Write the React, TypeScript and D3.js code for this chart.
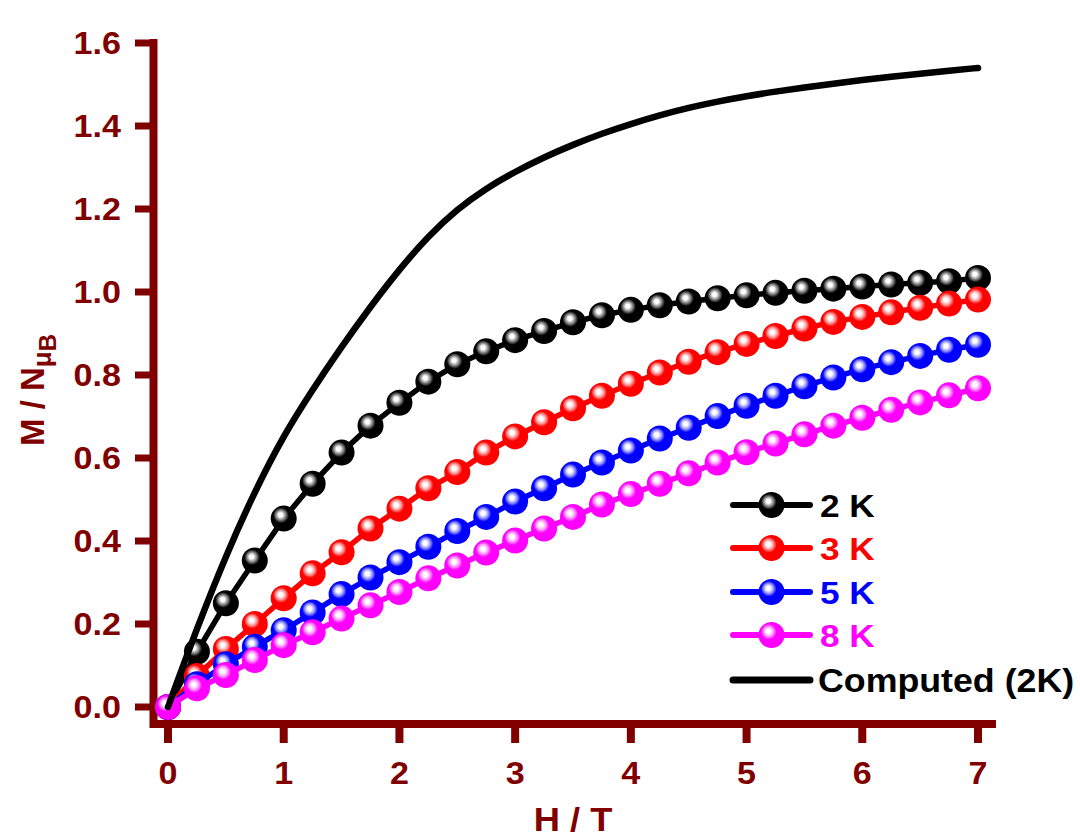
import React from "react";
import * as d3 from "d3";

// Field sweep, tesla
const fields = [
  0, 0.25, 0.5, 0.75, 1, 1.25, 1.5, 1.75, 2, 2.25, 2.5, 2.75, 3, 3.25, 3.5,
  3.75, 4, 4.25, 4.5, 4.75, 5, 5.25, 5.5, 5.75, 6, 6.25, 6.5, 6.75, 7,
];

// Measured magnetisation, M / N muB
const m2K = [
  0, 0.133, 0.25, 0.353, 0.454, 0.538, 0.613, 0.678, 0.733, 0.784, 0.826,
  0.857, 0.884, 0.906, 0.927, 0.944, 0.957, 0.968, 0.977, 0.985, 0.992, 0.998,
  1.003, 1.008, 1.013, 1.018, 1.022, 1.026, 1.034,
];
const m3K = [
  0, 0.075, 0.14, 0.2, 0.262, 0.322, 0.373, 0.43, 0.478, 0.527, 0.566, 0.613,
  0.652, 0.686, 0.72, 0.75, 0.779, 0.806, 0.832, 0.855, 0.875, 0.894, 0.912,
  0.928, 0.94, 0.951, 0.962, 0.972, 0.982,
];
const m5K = [
  0, 0.055, 0.103, 0.145, 0.185, 0.228, 0.272, 0.312, 0.349, 0.386, 0.424,
  0.458, 0.495, 0.527, 0.56, 0.589, 0.618, 0.647, 0.673, 0.701, 0.726, 0.75,
  0.773, 0.794, 0.814, 0.831, 0.846, 0.861, 0.873,
];
const m8K = [
  0, 0.045, 0.077, 0.113, 0.149, 0.18, 0.213, 0.245, 0.277, 0.31, 0.341, 0.372,
  0.401, 0.43, 0.458, 0.488, 0.513, 0.538, 0.563, 0.589, 0.614, 0.635, 0.657,
  0.678, 0.697, 0.716, 0.734, 0.751, 0.768,
];

// Computed curve for 2 K
const computed2K = [
  0, 0.19, 0.365, 0.52, 0.655, 0.765, 0.868, 0.965, 1.055, 1.135, 1.2, 1.25,
  1.29, 1.325, 1.355, 1.382, 1.405, 1.426, 1.444, 1.459, 1.472, 1.483, 1.493,
  1.502, 1.511, 1.519, 1.526, 1.533, 1.54,
];

const xTicks = [0, 1, 2, 3, 4, 5, 6, 7];
const yTicks = [0, 0.2, 0.4, 0.6, 0.8, 1.0, 1.2, 1.4, 1.6];

const seriesNames = ["2 K", "3 K", "5 K", "8 K"];
const seriesColors = ["#000000", "#ff0000", "#0000ff", "#ff00ff"];
const seriesHalo = ["#8a8a8a", "#ff9a9a", "#9a9aff", "#ff9aff"];
const seriesValues = [m2K, m3K, m5K, m8K];
const computedLabel = "Computed (2K)";

const AXIS = "#800000";
const FONT = "'Liberation Sans', Arial, Helvetica, sans-serif";
const SX = 1.1; // horizontal widening of the lettering

export default function App() {
  const x = d3.scaleLinear().domain([0, 7]).range([168, 978]);
  const y = d3.scaleLinear().domain([0, 1.6]).range([707, 43]);

  const line = d3
    .line<[number, number]>()
    .x((d) => x(d[0]))
    .y((d) => y(d[1]));
  const smooth = d3
    .line<[number, number]>()
    .x((d) => x(d[0]))
    .y((d) => y(d[1]))
    .curve(d3.curveBasis);

  const axisLeft = 153.5;
  const axisBottom = 724;
  const yTop = y(1.6) - 4;
  const xRight = 996;

  const Label = ({ tx, ty, anchor, size, fill, children }: any) => (
    <g transform={`translate(${tx},${ty}) scale(${SX},1)`}>
      <text
        textAnchor={anchor}
        fontSize={size}
        fontWeight="bold"
        fontFamily={FONT}
        fill={fill}
      >
        {children}
      </text>
    </g>
  );

  const legendY = [505, 548, 592, 635];
  const legendX0 = 733;
  const legendX1 = 810;

  return (
    <svg
      width={1080}
      height={839}
      style={{ position: "absolute", left: 0, top: 0, background: "#ffffff" }}
    >
      <defs>
        {seriesColors.map((c, i) => (
          <radialGradient
            key={i}
            id={`ball${i}`}
            cx="42%"
            cy="40%"
            fx="37%"
            fy="35%"
            r="58%"
          >
            <stop offset="0%" stopColor="#ffffff" />
            <stop offset="13%" stopColor="#ffffff" />
            <stop offset="32%" stopColor={seriesHalo[i]} />
            <stop offset="52%" stopColor={c} />
            <stop offset="100%" stopColor={c} />
          </radialGradient>
        ))}
      </defs>

      {/* axes frame */}
      <path
        d={`M${axisLeft},${yTop} V${axisBottom} H${xRight}`}
        fill="none"
        stroke={AXIS}
        strokeWidth={8}
        strokeLinejoin="miter"
      />
      {yTicks.map((t) => (
        <line
          key={`yt${t}`}
          x1={135}
          x2={axisLeft}
          y1={y(t)}
          y2={y(t)}
          stroke={AXIS}
          strokeWidth={7}
        />
      ))}
      {xTicks.map((t) => (
        <line
          key={`xt${t}`}
          x1={x(t)}
          x2={x(t)}
          y1={axisBottom}
          y2={743}
          stroke={AXIS}
          strokeWidth={8}
        />
      ))}
      {yTicks.map((t) => (
        <Label
          key={`yl${t}`}
          tx={121}
          ty={y(t) + 11}
          anchor="end"
          size={31}
          fill={AXIS}
        >
          {t.toFixed(1)}
        </Label>
      ))}
      {xTicks.map((t) => (
        <Label
          key={`xl${t}`}
          tx={x(t)}
          ty={784}
          anchor="middle"
          size={31}
          fill={AXIS}
        >
          {String(t)}
        </Label>
      ))}

      {/* axis titles */}
      <Label tx={573} ty={831} anchor="middle" size={33} fill={AXIS}>
        H / T
      </Label>
      <g transform="translate(44,446) rotate(-90)">
        <text fontSize={33} fontWeight="bold" fontFamily={FONT} fill={AXIS}>
          M / N
          <tspan fontSize={26} dy={7}>
            μ
          </tspan>
          <tspan fontSize={24} dy={5}>
            B
          </tspan>
        </text>
      </g>

      {/* measured series */}
      {seriesValues.map((vals, i) => {
        const pts = fields.map((f, k) => [f, vals[k]] as [number, number]);
        return (
          <g key={`s${i}`}>
            <path
              d={line(pts) || ""}
              fill="none"
              stroke={seriesColors[i]}
              strokeWidth={5.5}
              strokeLinejoin="round"
            />
            {pts.map((p, k) => (
              <circle
                key={k}
                cx={x(p[0])}
                cy={y(p[1])}
                r={13}
                fill={`url(#ball${i})`}
              />
            ))}
          </g>
        );
      })}

      {/* computed curve */}
      <path
        d={
          smooth(fields.map((f, k) => [f, computed2K[k]] as [number, number])) ||
          ""
        }
        fill="none"
        stroke="#000"
        strokeWidth={6.5}
        strokeLinecap="round"
      />

      {/* legend */}
      {seriesNames.map((name, i) => (
        <g key={`lg${i}`}>
          <line
            x1={legendX0}
            x2={legendX1}
            y1={legendY[i]}
            y2={legendY[i]}
            stroke={seriesColors[i]}
            strokeWidth={6}
            strokeLinecap="round"
          />
          <circle
            cx={(legendX0 + legendX1) / 2}
            cy={legendY[i]}
            r={13}
            fill={`url(#ball${i})`}
          />
          <Label
            tx={820}
            ty={legendY[i] + 12}
            anchor="start"
            size={32}
            fill={seriesColors[i]}
          >
            {name}
          </Label>
        </g>
      ))}
      <line
        x1={legendX0}
        x2={legendX1}
        y1={680}
        y2={680}
        stroke="#000"
        strokeWidth={7}
        strokeLinecap="round"
      />
      <Label tx={818} ty={692} anchor="start" size={32.5} fill="#000">
        {computedLabel}
      </Label>
    </svg>
  );
}
